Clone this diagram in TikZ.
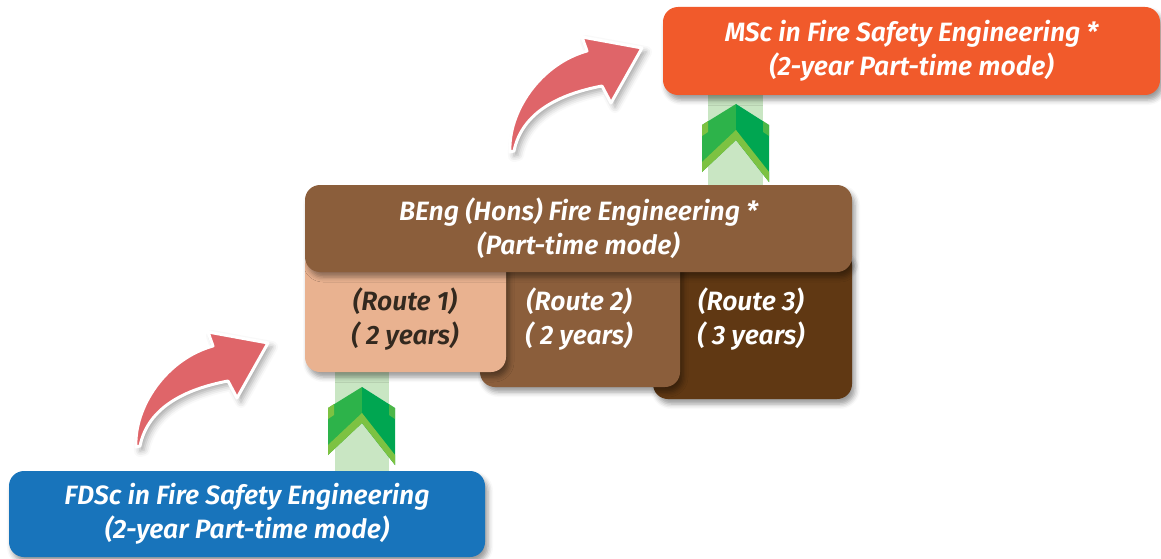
\documentclass[tikz,border=0pt]{standalone}
\usepackage{fontspec}
\setmainfont{Fira Sans}[BoldItalicFont={Fira Sans SemiBold Italic}]
\usetikzlibrary{shadows.blur,calc}

\definecolor{mscorange}{HTML}{F15A2B}
\definecolor{brownmid}{HTML}{8B5E3B}
\definecolor{browndark}{HTML}{603813}
\definecolor{peach}{HTML}{E9B290}
\definecolor{fdscblue}{HTML}{1874BB}
\definecolor{barlight}{HTML}{C9E6C3}
\definecolor{arrowred}{HTML}{DF6569}
\definecolor{chevlight}{HTML}{7DC242}
\definecolor{chevmid}{HTML}{2DB34A}
\definecolor{chevdark}{HTML}{00A651}
\definecolor{darktext}{HTML}{33291F}

\newcommand\diagfont{\bfseries\itshape\fontsize{26.5}{34}\selectfont}

\tikzset{
  box/.style={rounded corners=15pt, inner sep=0pt, align=center, text=white,
    font=\diagfont,
    blur shadow={shadow xshift=3pt, shadow yshift=-5pt, shadow blur radius=5pt, shadow opacity=40}},
  routetext/.style={align=center, font=\diagfont, inner sep=0pt},
  bar/.style={fill=barlight},
  arrowbody/.style={fill=arrowred, draw=white, line width=3pt, line join=round,
    blur shadow={shadow xshift=4pt, shadow yshift=-4pt, shadow blur radius=6pt, shadow opacity=35}},
  chevron/.pic={
    \fill[chevmid] (0,0) -- (0,36) -- (-34,68) -- (-34,21) -- cycle;
    \fill[chevdark] (0,0) -- (33,21) -- (33,78) -- (0,36) -- cycle;
    \fill[chevlight] (0,36) -- (-34,68) -- (-34,58) -- (0,26) -- cycle;
    \fill[chevlight] (0,36) -- (33,78) -- (33,68) -- (0,26) -- cycle;
    \fill[chevlight] (-34,21) -- (-28,17) -- (-28,28) -- (-34,32) -- cycle;
    \fill[chevlight,opacity=0.6] (33,21) -- (27,17) -- (27,28) -- (33,32) -- cycle;
  },
  bendarrow/.pic={
    \path[arrowbody] (0,0) .. controls (-2,-40) and (30,-88) .. (77,-101)
      -- (72,-115) -- (132,-104) -- (101,-49) -- (92,-66)
      .. controls (50,-58) and (12,-40) .. (4,-1) -- cycle;
  }
}

\begin{document}
\begin{tikzpicture}[x=1pt,y=-1pt]
\useasboundingbox (0,0) rectangle (1161,559);

% ends of the two progression bars
\coordinate (upfoot) at (735.5,90);
\coordinate (uphead) at (735.5,190);
\coordinate (lowfoot) at (362,367);
\coordinate (lowhead) at (362,476);

% progression bars, drawn first so the boxes and their shadows lie over them
\fill[bar] ($(upfoot)+(-27.5,0)$) rectangle ($(uphead)+(27.5,0)$);
\fill[bar] ($(lowfoot)+(-27,0)$) rectangle ($(lowhead)+(27,0)$);

% programme boxes, back to front
\node[box, fill=mscorange, minimum width=497pt, minimum height=88pt] (msc) at (911.5,51)
  {MSc in Fire Safety Engineering *\\(2-year Part-time mode)};
\node[box, fill=browndark, minimum width=199pt, minimum height=149pt] (r3) at (752.5,324.5) {};
\node[box, fill=brownmid, minimum width=200pt, minimum height=137pt] (r2) at (580,318.5) {};
\node[box, fill=peach, minimum width=201pt, minimum height=122pt] (r1) at (405.5,311) {};
\node[box, fill=brownmid, minimum width=547pt, minimum height=87pt] (beng) at (578.5,228.5)
  {BEng (Hons) Fire Engineering *\\(Part-time mode)};
\node[box, fill=fdscblue, minimum width=476pt, minimum height=86pt] (fdsc) at (247,514)
  {FDSc in Fire Safety Engineering\\(2-year Part-time mode)};

% route labels
\node[routetext, text=darktext] (r1t) at (405,319) {(Route 1)\\( 2 years)};
\node[routetext, text=white] (r2t) at (579,319) {(Route 2)\\( 2 years)};
\node[routetext, text=white] (r3t) at (751,319) {(Route 3)\\( 3 years)};

% chevrons on the bars
\pic at (736,104) {chevron};
\pic at (362,387) {chevron};

% curved progression arrows
\pic at (136,447) {bendarrow};
\pic at (510,152) {bendarrow};
\end{tikzpicture}
\end{document}
